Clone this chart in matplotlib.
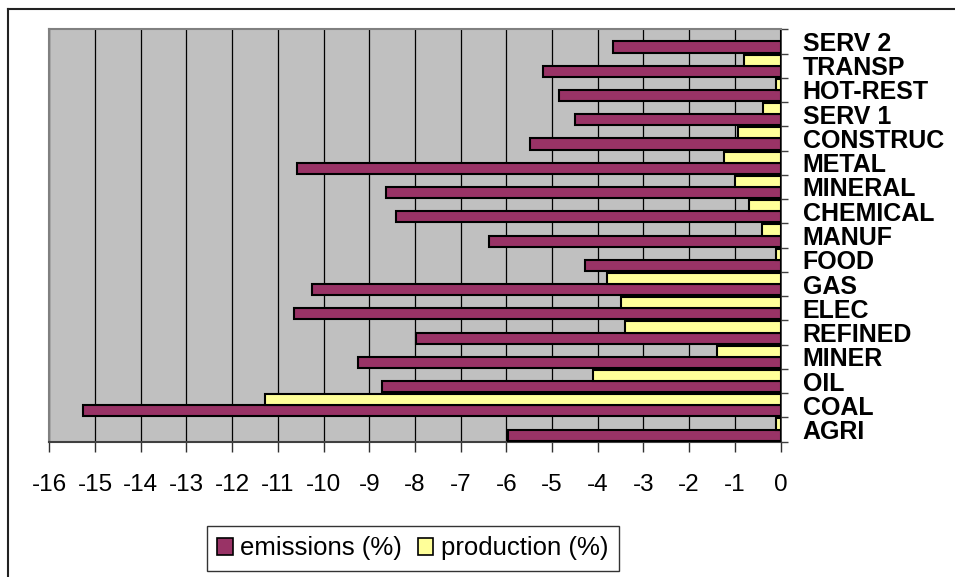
import matplotlib
matplotlib.use("Agg")
import matplotlib.pyplot as plt
from matplotlib.patches import Patch
from matplotlib.lines import Line2D
import numpy as np

categories = ["AGRI", "COAL", "OIL", "MINER", "REFINED", "ELEC", "GAS", "FOOD",
              "MANUF", "CHEMICAL", "MINERAL", "METAL", "CONSTRUC", "SERV 1",
              "HOT-REST", "TRANSP", "SERV 2"]
emissions = [-5.97, -15.27, -8.72, -9.25, -7.98, -10.65, -10.26, -4.27,
             -6.38, -8.42, -8.64, -10.57, -5.49, -4.49, -4.84, -5.19, -3.67]
production = [-0.09, -11.29, -4.10, -1.39, -3.40, -3.49, -3.79, -0.09,
              -0.40, -0.70, -1.00, -1.23, -0.92, -0.39, -0.09, -0.79, 0.0]
xticks = list(range(-16, 1))
series_names = ["emissions (%)", "production (%)"]

plt.rcParams['font.family'] = ['Liberation Sans', 'DejaVu Sans']

W, H = 955, 577
fig = plt.figure(figsize=(W / 100, H / 100), dpi=100)
fig.patch.set_facecolor("white")

left, right, top, bottom = 49.3, 780.5, 29.3, 441.7
ax = fig.add_axes([left / W, 1 - bottom / H, (right - left) / W, (bottom - top) / H])
ax.set_facecolor("#C0C0C0")

n = len(categories)
y = np.arange(n)
h = 0.46
c_em = "#993366"
c_pr = "#FFFF99"
ax.barh(y - 0.23, emissions, height=h, color=c_em, edgecolor="black", linewidth=1.5, zorder=3)
ax.barh(y + 0.23, production, height=h, color=c_pr, edgecolor="black", linewidth=1.5, zorder=3)

ax.set_xlim(-16, 0)
ax.set_ylim(-0.5, n - 0.5)
ax.set_xticks(xticks)
ax.set_xticklabels([str(v) for v in xticks], fontsize=17.5)
ax.xaxis.grid(True, color="black", linewidth=0.9, zorder=1)
ax.set_axisbelow(True)

ax.yaxis.tick_right()
ax.set_yticks(y)
ax.set_yticklabels(categories, fontsize=18, fontweight="bold")
ax.set_yticks(np.arange(n + 1) - 0.5, minor=True)
ax.tick_params(axis="y", which="major", length=0, pad=16)
ax.tick_params(axis="y", which="minor", length=5, width=1, color="#404040", direction="out")
ax.tick_params(axis="x", which="major", length=7, width=1, color="#303030", direction="out", pad=16)

for s in ["left", "top"]:
    ax.spines[s].set_color("#808080")
    ax.spines[s].set_linewidth(1.5)
ax.spines["right"].set_color("#202020")
ax.spines["right"].set_linewidth(1.2)
ax.spines["bottom"].set_color("#404040")
ax.spines["bottom"].set_linewidth(1.5)

handles = [Patch(facecolor=c_em, edgecolor="black", linewidth=1.2),
           Patch(facecolor=c_pr, edgecolor="black", linewidth=1.2)]
leg = fig.legend(handles, series_names, loc="center",
                 bbox_to_anchor=(412.8 / W, 1 - 548.5 / H), ncol=2,
                 fontsize=18.5, frameon=True, fancybox=False, shadow=False,
                 handlelength=0.6, handleheight=0.6, handletextpad=0.3,
                 columnspacing=0.6, borderpad=0.4, borderaxespad=0)
leg.get_frame().set_edgecolor("black")
leg.get_frame().set_linewidth(1.0)

# outer chart frame (left and top edges visible)
fig.add_artist(Line2D([8 / W, 8 / W], [0, 1 - 9 / H], transform=fig.transFigure,
                      color="#222222", linewidth=1.5))
fig.add_artist(Line2D([8 / W, 1], [1 - 9 / H, 1 - 9 / H], transform=fig.transFigure,
                      color="#222222", linewidth=1.5))

fig.savefig("out.png", dpi=100)
